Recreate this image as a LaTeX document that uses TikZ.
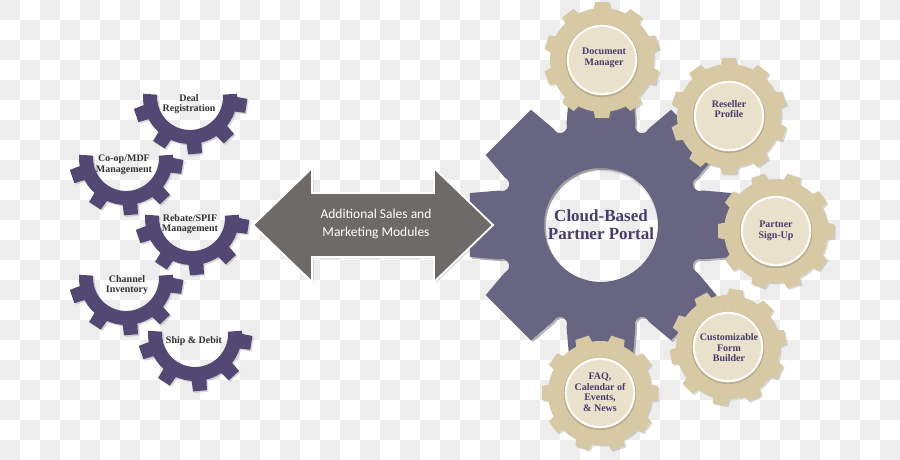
\documentclass[tikz,border=0pt]{standalone}
\usepackage{fontspec}
\setmainfont{Liberation Serif}
\newfontfamily\arrowfont{Carlito}
\usetikzlibrary{shadows}
\definecolor{checker}{RGB}{237,237,237}
\definecolor{leftgear}{RGB}{82,72,115}
\definecolor{biggear}{RGB}{103,101,130}
\definecolor{arrowgrey}{RGB}{110,106,103}
\definecolor{geartan}{RGB}{214,201,163}
\definecolor{gearface}{RGB}{233,225,203}
\definecolor{purpletext}{RGB}{72,60,108}
\definecolor{darktext}{RGB}{50,50,50}
\tikzset{
  shad/.style={drop shadow={opacity=0.3, shadow xshift=1.5pt, shadow yshift=-1.5pt}},
  lefttext/.style={font=\bfseries\fontsize{10}{10.5}\selectfont, text=darktext, align=center, inner sep=0pt},
  righttext/.style={font=\bfseries\fontsize{10}{10.5}\selectfont, text=purpletext, align=center, inner sep=0pt},
}
\newcommand\HalfGear[1]{%
  \fill[leftgear, shad, shift={#1}] (176:47) arc[start angle=176,end angle=364,radius=47]
    -- (364:33) arc[start angle=364,end angle=176,radius=33] -- cycle
    \foreach \ang in {199,237,275,313,351} {
      ([rotate=\ang]44,-7.5) -- ([rotate=\ang]57,-7) -- ([rotate=\ang]57,7) -- ([rotate=\ang]44,7.5) -- cycle };
}
\newcommand\TanGear[2]{%
  \begin{scope}[shift={#1}]
    \fill[geartan, shad] (0:52) arc[start angle=0,end angle=360,radius=52] -- cycle
      \foreach \ang in {0,36,...,324} {
        ([rotate=\ang+#2]50,-8.5) -- ([rotate=\ang+#2]58,-7) -- ([rotate=\ang+#2]58,7) -- ([rotate=\ang+#2]50,8.5) -- cycle };
    \fill[geartan!85!black] (0,-0.8) circle[radius=36.3];
    \fill[white!92!geartan] (0,0) circle[radius=35.3];
    \fill[gearface] (0,0) circle[radius=33];
  \end{scope}}
\begin{document}
\begin{tikzpicture}[x=1pt,y=1pt]
\useasboundingbox (0,0) rectangle (900,460);
\fill[white] (0,0) rectangle (900,460);
\foreach \i in {0,...,44} {\foreach \j in {0,...,22} {
  \pgfmathtruncatemacro\chk{mod(\i+\j,2)}
  \ifnum\chk=0 \fill[checker] ({20*\i},{440-20*\j}) rectangle +(20,20); \fi }}

% left half gears
\HalfGear{(190,363)}
\HalfGear{(126,302)}
\HalfGear{(192,242)}
\HalfGear{(126,182)}
\HalfGear{(195,126)}
\node[lefttext] (deal) at (189,356) {Deal\\Registration};
\node[lefttext] (coop) at (124,295) {Co-op/MDF\\Management};
\node[lefttext] (rebate) at (190,236) {Rebate/SPIF\\Management};
\node[lefttext] (channel) at (127,175) {Channel\\Inventory};
\node[lefttext] (ship) at (194,119) {Ship \& Debit};

% big gear
\begin{scope}[shift={(601,235)}]
\fill[biggear, even odd rule,
      preaction={fill=black, fill opacity=0.28, even odd rule, transform canvas={xshift=1.8pt, yshift=-1.8pt}}]
  (-13.7:134.9)
  \foreach \a in {0,45,...,315} {
    -- ({\a-13.7}:134.9) -- ({\a+13.7}:134.9) -- ({\a+18.757}:107.23)
    arc[start angle={\a+22.5-90}, end angle={\a+22.5-270}, radius=7] }
  -- cycle (0,0) circle[radius=57];
\begin{scope}
  \clip (0,0) circle[radius=57];
  \draw[black, opacity=0.12, line width=5pt] (0.5,-2.5) circle[radius=59];
\end{scope}
\end{scope}
\node[font=\bfseries\fontsize{17}{18}\selectfont, text=purpletext, align=center, inner sep=0pt] (portal) at (601,235) {Cloud-Based\\Partner Portal};

% small gears
\TanGear{(602,400)}{18}
\TanGear{(729,344)}{18}
\TanGear{(776,229)}{0}
\TanGear{(728,113)}{10}
\TanGear{(600,67)}{0}
\node[righttext] (doc) at (604,402) {Document\\Manager};
\node[righttext] (resell) at (729,351) {Reseller\\Profile};
\node[righttext] (signup) at (776,229) {Partner\\Sign-Up};
\node[righttext] (form) at (729,112) {Customizable\\Form\\Builder};
\node[righttext] (faq) at (600,68) {FAQ,\\Calendar of\\Events,\\\& News};

% double arrow
\filldraw[fill=arrowgrey, draw=white, line width=1.8pt, shad]
  (253,235) -- (312,292) -- (312,267) -- (434,267) -- (434,292) -- (493,235)
  -- (434,178) -- (434,203) -- (312,203) -- (312,178) -- cycle;
\node[font=\arrowfont\fontsize{13.5}{18}\selectfont, text=white, align=center, inner sep=0pt] (modules) at (376,236) {Additional Sales and\\Marketing Modules};
\end{tikzpicture}
\end{document}
